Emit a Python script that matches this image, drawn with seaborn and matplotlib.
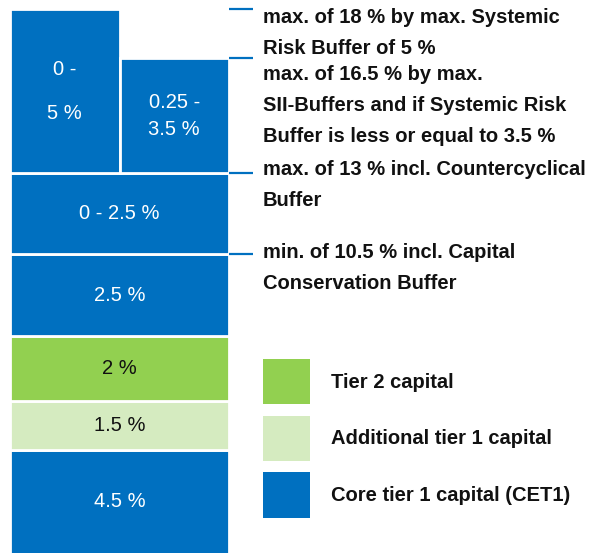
import numpy as np
import pandas as pd
import matplotlib
matplotlib.use("Agg")
import matplotlib.pyplot as plt
from matplotlib.patches import Patch
import seaborn as sns

sns.set_style("white")
plt.rcParams['font.family'] = ['Liberation Sans', 'DejaVu Sans']

# full-width capital layers, bottom to top
layer_labels = ["4.5 %", "1.5 %", "2 %", "2.5 %", "0 - 2.5 %"]
layer_values = [4.5, 1.5, 2.0, 2.5, 2.5]
layer_kinds = ["CET1", "AT1", "T2", "CET1", "CET1"]

# the two alternative buffers sitting side by side on top
top_labels = ["0 -\n\n5 %", "0.25 -\n3.5 %"]
top_values = [5.0, 3.5]

threshold_texts = [
    "max. of 18 % by max. Systemic\nRisk Buffer of 5 %",
    "max. of 16.5 % by max.\nSII-Buffers and if Systemic Risk\nBuffer is less or equal to 3.5 %",
    "max. of 13 % incl. Countercyclical\nBuffer",
    "min. of 10.5 % incl. Capital\nConservation Buffer",
]

legend_kinds = ["T2", "AT1", "CET1"]
legend_labels = ["Tier 2 capital", "Additional tier 1 capital", "Core tier 1 capital (CET1)"]

colors = {"CET1": "#0070C0", "AT1": "#D5EBC0", "T2": "#92D050"}
text_colors = {"CET1": "white", "AT1": "#111111", "T2": "#111111"}

# build block table
bottoms = np.concatenate([[0], np.cumsum(layer_values)[:-1]])
blocks = pd.DataFrame({
    "label": layer_labels, "value": layer_values, "kind": layer_kinds,
    "bottom": bottoms, "x": 0.5, "width": 1.0, "lsp": 1.2,
})
stack_top = float(np.sum(layer_values))
top_blocks = pd.DataFrame({
    "label": top_labels, "value": top_values, "kind": "CET1",
    "bottom": stack_top, "x": [0.25, 0.75], "width": 0.5, "lsp": [1.2, 1.54],
})
blocks = pd.concat([blocks, top_blocks], ignore_index=True)

# threshold levels follow from the stack
cum = np.cumsum(layer_values)
threshold_levels = [stack_top + top_values[0], stack_top + top_values[1], stack_top, cum[3]]
text_offsets = [1.2, -4.5, 9.0, 8.4]  # points, to line text up with the ticks

ylim = (44 / 32.64, 597 / 32.64)

fig = plt.figure(figsize=(5.93, 5.53), dpi=100)
ax = fig.add_axes([0, 0, 1, 1])

for _, b in blocks.iterrows():
    sns.barplot(x=[b["x"]], y=[b["value"]], native_scale=True, width=b["width"],
                bottom=b["bottom"], color=colors[b["kind"]], saturation=1,
                edgecolor="white", linewidth=2, ax=ax)
    # centre label in the visible part of the block
    lo = max(b["bottom"], ylim[0])
    ax.text(b["x"], (lo + b["bottom"] + b["value"]) / 2, b["label"], ha="center", va="center",
            fontsize=14.5, color=text_colors[b["kind"]], linespacing=b["lsp"])

ax.hlines(threshold_levels, 1.0, 1.11, color="#0070C0", lw=1.6)
for lvl, txt, off in zip(threshold_levels, threshold_texts, text_offsets):
    ax.annotate(txt, xy=(1.155, lvl), xytext=(0, off), textcoords="offset points",
                ha="left", va="top", fontsize=14.5, fontweight="bold",
                color="#111111", linespacing=1.82)

handles = [Patch(facecolor=colors[k], edgecolor="none") for k in legend_kinds]
leg = ax.legend(handles, legend_labels, loc="upper left",
                bbox_to_anchor=(263 / 593, 1 - 359 / 553), bbox_transform=fig.transFigure,
                frameon=False, borderpad=0, borderaxespad=0,
                handlelength=2.35, handleheight=3.09, handletextpad=1.05,
                labelspacing=0.56, prop={"size": 14.5, "weight": "bold"})
for t in leg.get_texts():
    t.set_color("#111111")

ax.set_xlim(-10 / 219, 583 / 219)
ax.set_ylim(*ylim)
ax.set_axis_off()

plt.savefig("out.png", dpi=100)
